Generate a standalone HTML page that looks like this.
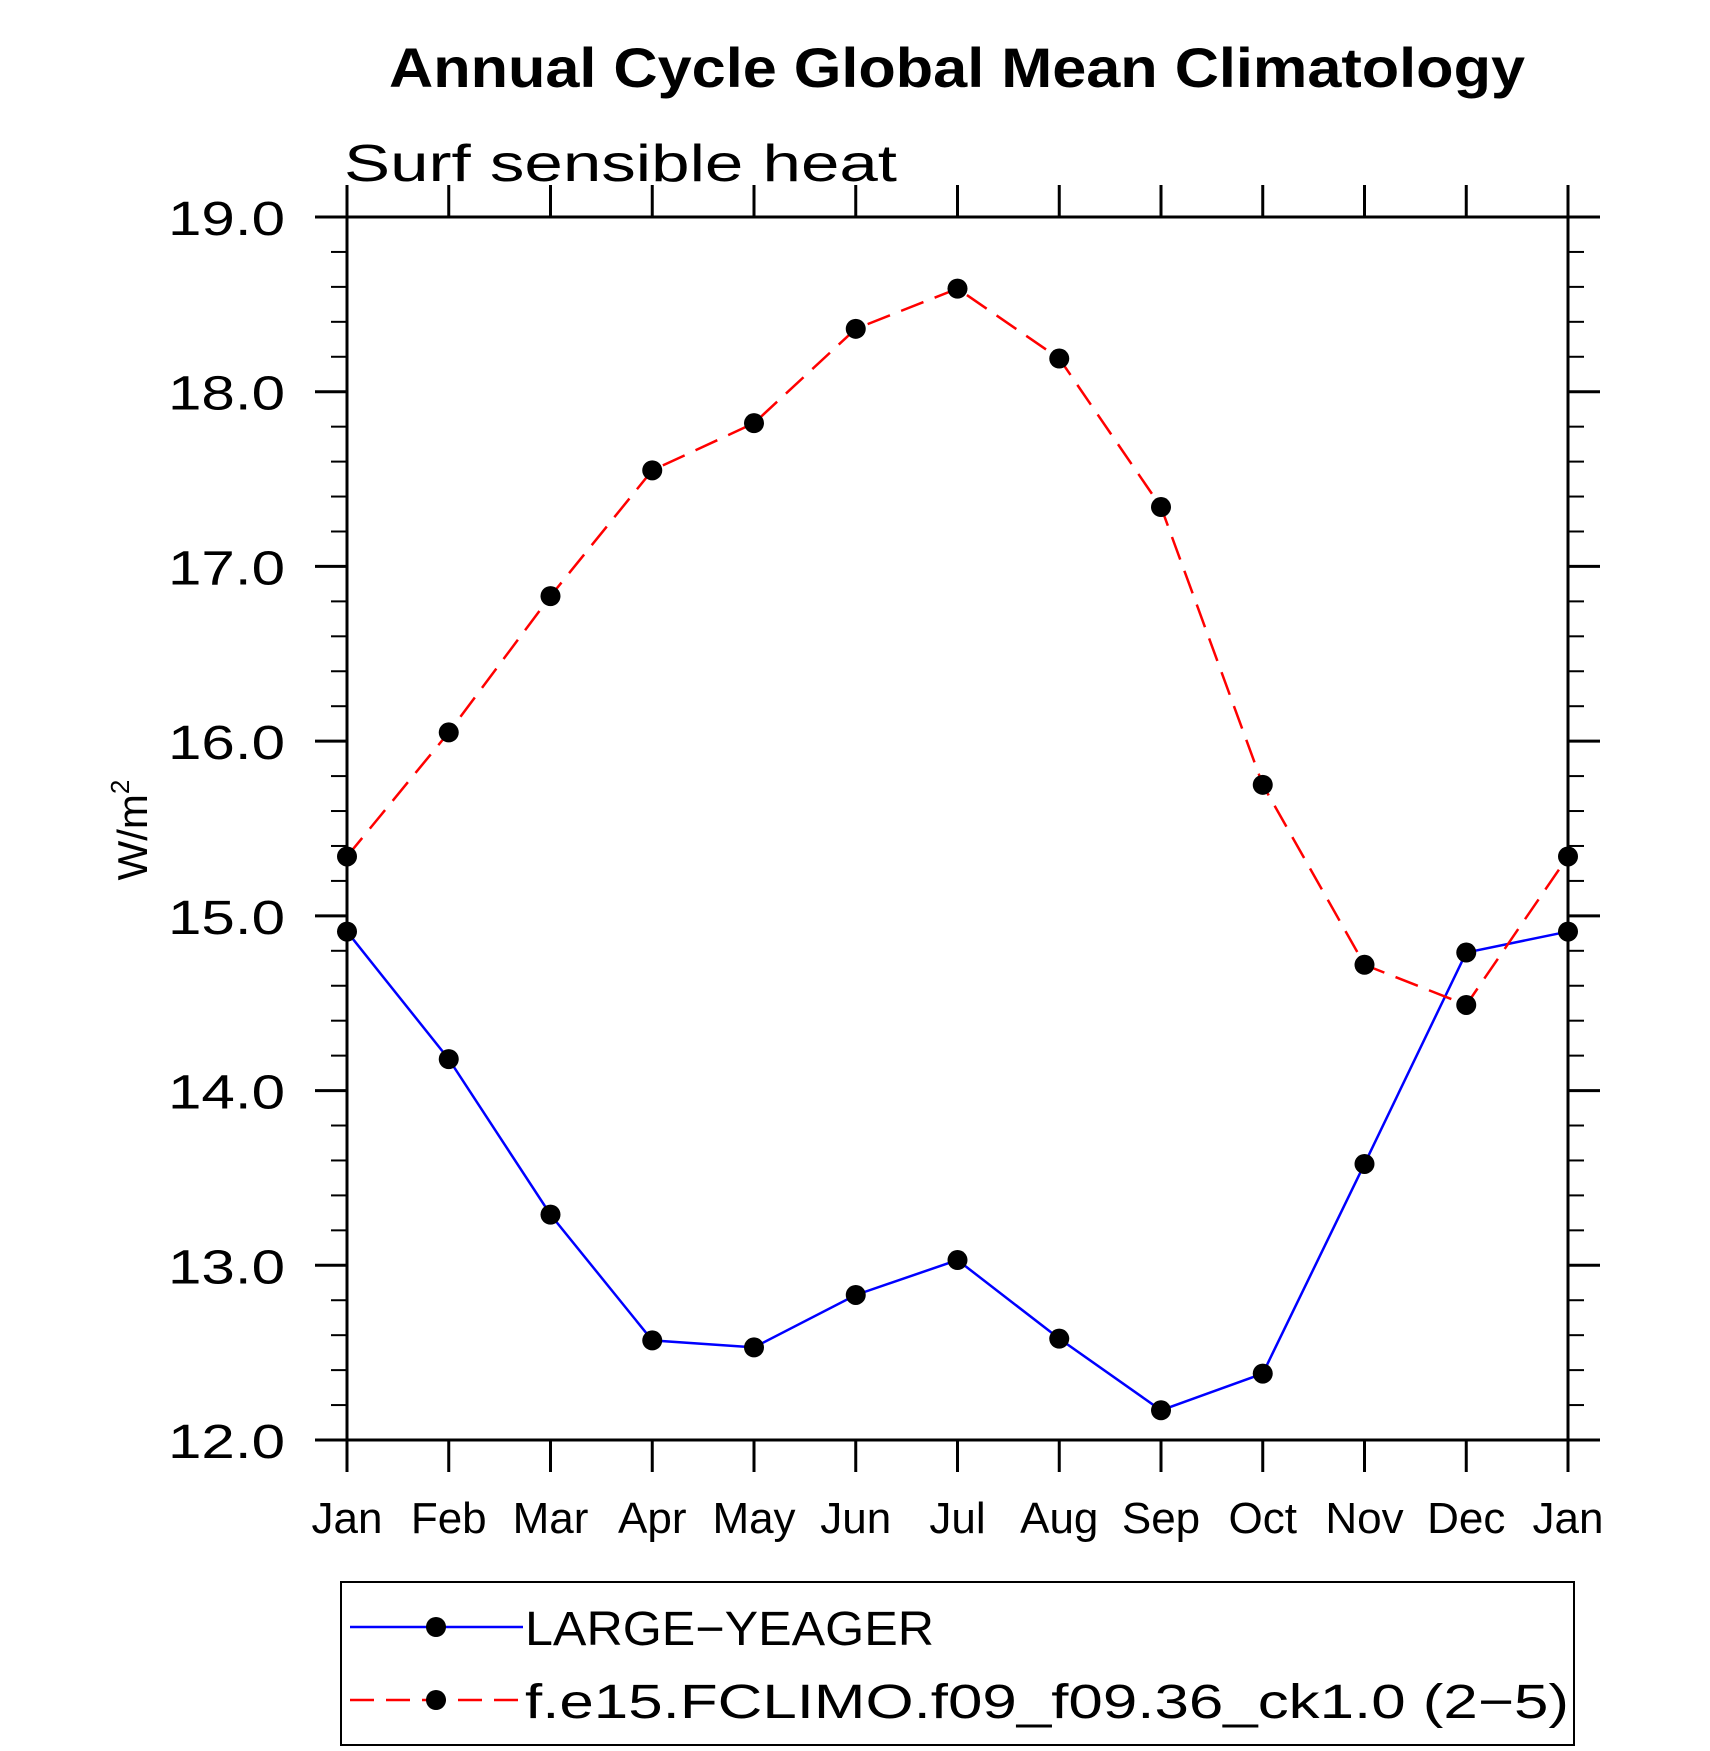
<!DOCTYPE html>
<html><head><meta charset="utf-8"><style>html,body{margin:0;padding:0;background:#fff}svg{display:block}text{font-family:"Liberation Sans",sans-serif}</style></head>
<body>
<svg id="chart" width="1710" height="1751" viewBox="0 0 1710 1751" xmlns="http://www.w3.org/2000/svg">
<text x="957" y="87" text-anchor="middle" font-size="56" font-weight="bold" textLength="1136" lengthAdjust="spacingAndGlyphs">Annual Cycle Global Mean Climatology</text>
<text x="344" y="181" font-size="52" textLength="553" lengthAdjust="spacingAndGlyphs" font-weight="300">Surf sensible heat</text>
<text transform="translate(147,830) rotate(-90)" text-anchor="middle" font-size="42">W/m<tspan font-size="26" dy="-18">2</tspan></text>
<g id="axes"></g>
<g id="series"></g>
<g>
<rect x="341" y="1582" width="1233" height="163" fill="none" stroke="#000" stroke-width="2"/>
<g>
<line x1="350" y1="1627" x2="523" y2="1627" stroke="#0000ff" stroke-width="2.5"/>
<circle cx="436" cy="1627" r="10" fill="#000"/>
<text x="525" y="1645" font-size="48" textLength="409" lengthAdjust="spacingAndGlyphs">LARGE−YEAGER</text>
</g>
<g>
<line x1="350" y1="1700" x2="523" y2="1700" stroke="#ff0000" stroke-width="2.5" stroke-dasharray="24,12"/>
<circle cx="436" cy="1700" r="10" fill="#000"/>
<text x="525" y="1718" font-size="48" textLength="1044" lengthAdjust="spacingAndGlyphs">f.e15.FCLIMO.f09_f09.36_ck1.0 (2−5)</text>
</g>
</g>
</svg>
<script>
const months = ["Jan","Feb","Mar","Apr","May","Jun","Jul","Aug","Sep","Oct","Nov","Dec","Jan"];
const largeYeager = [14.91,14.18,13.29,12.57,12.53,12.83,13.03,12.58,12.17,12.38,13.58,14.79,14.91];
const fclimo = [15.34,16.05,16.83,17.55,17.82,18.36,18.59,18.19,17.34,15.75,14.72,14.49,15.34];
const yTicks = [12,13,14,15,16,17,18,19];
const yTickLabels = ["12.0","13.0","14.0","15.0","16.0","17.0","18.0","19.0"];

const NS="http://www.w3.org/2000/svg";
const L=347,R=1568,T=217,B=1440,ymin=12,ymax=19;
const xs=i=>L+(R-L)*i/(months.length-1);
const ys=v=>B-(B-T)*(v-ymin)/(ymax-ymin);
function mk(tag,attrs,parent){const e=document.createElementNS(NS,tag);for(const k in attrs)e.setAttribute(k,attrs[k]);parent.appendChild(e);return e;}
const axes=document.getElementById('axes');
const frame=mk('rect',{x:L,y:T,width:R-L,height:B-T,fill:'none',stroke:'#000','stroke-width':3},axes);


for(let v=ymin;v<=ymax+1e-9;v+=0.2){
  const y=ys(v);
  const major=Math.abs(v-Math.round(v))<1e-6;
  const len=major?32:16;
  const t1=mk('line',{x1:L-len,y1:y,x2:L,y2:y,stroke:'#000','stroke-width':major?3:2},axes);
  
  
  const t2=mk('line',{x1:R,y1:y,x2:R+len,y2:y,stroke:'#000','stroke-width':major?3:2},axes);
  
  
}
yTicks.forEach((v,i)=>{
  const t=mk('text',{x:168,y:ys(v)+18,'font-size':48,'font-weight':300,textLength:117,lengthAdjust:'spacingAndGlyphs'},axes);
  t.textContent=yTickLabels[i];
  
  
});
months.forEach((m,i)=>{
  const x=xs(i);
  const a=mk('line',{x1:x,y1:B,x2:x,y2:B+32,stroke:'#000','stroke-width':3},axes);
  
  
  const b=mk('line',{x1:x,y1:T-32,x2:x,y2:T,stroke:'#000','stroke-width':3},axes);
  
  
  const t=mk('text',{x:x,y:1533,'text-anchor':'middle','font-size':44,'font-weight':300},axes);
  t.textContent=m;
  
  
});
const series=document.getElementById('series');
function draw(vals,color,dash,name){
  const pts=vals.map((v,i)=>xs(i)+','+ys(v)).join(' ');
  const attrs={points:pts,fill:'none',stroke:color,'stroke-width':2.5};
  if(dash)attrs['stroke-dasharray']=dash;
  const pl=mk('polyline',attrs,series);
  
  
  vals.forEach((v,i)=>{
    const c=mk('circle',{cx:xs(i),cy:ys(v),r:10,fill:'#000'},series);
    
    
  });
}
draw(largeYeager,'#0000ff',null,'large-yeager');
draw(fclimo,'#ff0000','24,12','fclimo');
</script>
</body></html>
